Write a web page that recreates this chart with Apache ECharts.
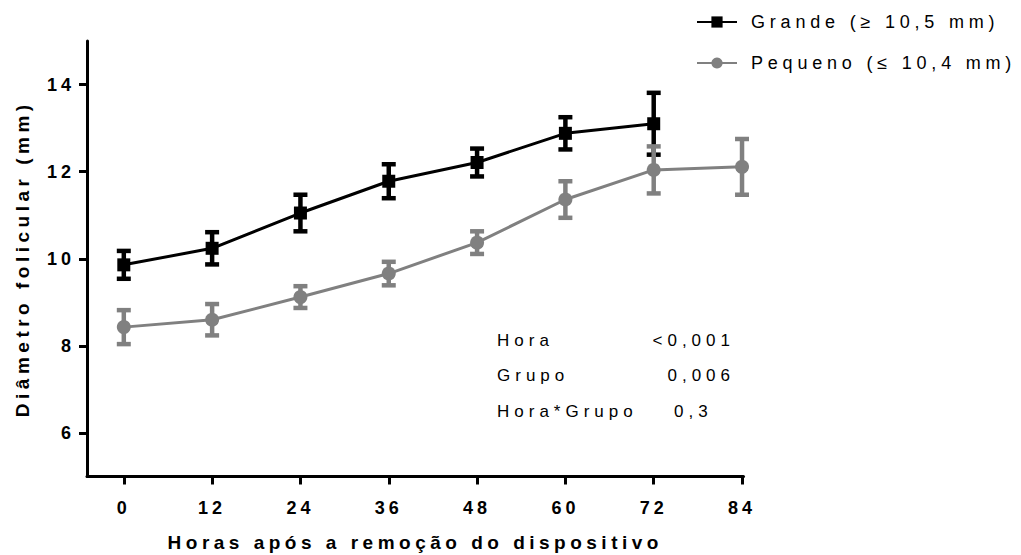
<!DOCTYPE html>
<html><head><meta charset="utf-8">
<script src="https://cdn.jsdelivr.net/npm/echarts@6/dist/echarts.min.js"></script>
<style>html,body{margin:0;padding:0;background:#fff}#c{width:1021px;height:555px}</style>
</head><body><div id="c"></div>
<script>
const hours = [0, 12, 24, 36, 48, 60, 72, 84];
const grandeMean = [9.86, 10.24, 11.05, 11.78, 12.21, 12.88, 13.10];
const grandeErr = [0.32, 0.37, 0.42, 0.39, 0.32, 0.37, 0.71];
const pequenoMean = [8.43, 8.60, 9.12, 9.66, 10.37, 11.36, 12.04, 12.11];
const pequenoErr = [0.39, 0.36, 0.25, 0.27, 0.26, 0.42, 0.54, 0.64];
const xTicks = [0, 12, 24, 36, 48, 60, 72, 84];
const yTicks = [6, 8, 10, 12, 14];
const statLabels = ['Hora', 'Grupo', 'Hora*Grupo'];
const statValues = ['<0,001', '0,006', '0,3'];
const seriesNames = ['Grande (≥ 10,5 mm)', 'Pequeno (≤ 10,4 mm)'];
const xName = 'Horas após a remoção do dispositivo';
const yName = 'Diâmetro folicular (mm)';

const FONT = '"Liberation Sans", Arial, sans-serif';

function pts(mean) { return mean.map((v, i) => [hours[i], v]); }
function bars(mean, err) { return mean.map((v, i) => [hours[i], v - err[i], v + err[i]]); }

function errRender(color) {
  return function (params, api) {
    const x = api.value(0), lo = api.value(1), hi = api.value(2);
    const p1 = api.coord([x, hi]), p2 = api.coord([x, lo]);
    const hw = 7;
    const st = { stroke: color, lineWidth: 4.5 };
    return {
      type: 'group', children: [
        { type: 'line', shape: { x1: p1[0], y1: p1[1], x2: p2[0], y2: p2[1] }, style: st },
        { type: 'line', shape: { x1: p1[0] - hw, y1: p1[1], x2: p1[0] + hw, y2: p1[1] }, style: st },
        { type: 'line', shape: { x1: p2[0] - hw, y1: p2[1], x2: p2[0] + hw, y2: p2[1] }, style: st }
      ]
    };
  };
}

const chart = echarts.init(document.getElementById('c'), null, { renderer: 'svg' });

const axisCommon = {
  axisLine: { show: true, onZero: false, lineStyle: { color: '#000', width: 3 } },
  axisTick: { show: true, inside: false, length: 8, lineStyle: { color: '#000', width: 3 } },
  splitLine: { show: false },
  axisLabel: { color: '#000', fontFamily: FONT, fontWeight: 'bold', fontSize: 18 },
  nameTextStyle: { color: '#000', fontFamily: FONT, fontWeight: 'bold', fontSize: 19 }
};

const statY = [340, 375.5, 411];
const statGraphics = [];
function statText(x, y, text, align) {
  return { type: 'text', x: x, y: y,
    style: { text: text, fontSize: 17, fontFamily: FONT, fill: '#000', textAlign: align, textVerticalAlign: 'middle', align: align, verticalAlign: 'middle' } };
}
statLabels.forEach((t, i) => statGraphics.push(statText(497, statY[i], t, 'left')));
statGraphics.push(statText(735, statY[0], statValues[0], 'right'));
statGraphics.push(statText(735, statY[1], statValues[1], 'right'));
statGraphics.push(statText(674, statY[2], statValues[2], 'left'));

chart.setOption({
  animation: false,
  backgroundColor: '#fff',
  grid: { left: 87, right: 1021 - 743.5, top: 41, bottom: 555 - 476.5, containLabel: false, outerBoundsMode: 'none' },
  legend: {
    data: seriesNames,
    orient: 'vertical',
    left: 691, top: 8,
    itemWidth: 40, itemHeight: 14, itemGap: 23,
    textStyle: { color: '#000', fontFamily: FONT, fontSize: 18, padding: [0, 0, 0, 9] },
  },
  xAxis: Object.assign({}, axisCommon, {
    type: 'value', min: -5, max: 84.2,
    name: xName,
    nameLocation: 'middle', nameGap: 56,
    axisTick: Object.assign({}, axisCommon.axisTick, { customValues: xTicks }),
    axisLabel: Object.assign({}, axisCommon.axisLabel, { customValues: xTicks, margin: 22 })
  }),
  yAxis: Object.assign({}, axisCommon, {
    type: 'value', min: 5, max: 15,
    name: yName,
    nameLocation: 'middle', nameGap: 55,
    axisTick: Object.assign({}, axisCommon.axisTick, { customValues: yTicks }),
    axisLabel: Object.assign({}, axisCommon.axisLabel, { customValues: yTicks, margin: 12 })
  }),
  graphic: statGraphics,
  series: [
    {
      type: 'custom', name: seriesNames[0] + ' err', renderItem: errRender('#000'),
      data: bars(grandeMean, grandeErr), encode: { x: 0, y: [1, 2] }, z: 2
    },
    {
      type: 'line', name: seriesNames[0], data: pts(grandeMean),
      symbol: 'rect', symbolSize: 13,
      lineStyle: { color: '#000', width: 3 }, itemStyle: { color: '#000' }, z: 3
    },
    {
      type: 'custom', name: seriesNames[1] + ' err', renderItem: errRender('#808080'),
      data: bars(pequenoMean, pequenoErr), encode: { x: 0, y: [1, 2] }, z: 4
    },
    {
      type: 'line', name: seriesNames[1], data: pts(pequenoMean),
      symbol: 'circle', symbolSize: 14,
      lineStyle: { color: '#808080', width: 3 }, itemStyle: { color: '#808080' }, z: 5
    }
  ]
});

function applySpacing() {
  document.querySelectorAll('#c svg text').forEach(t => {
    const s = t.textContent;
    let ls = 0;
    if (/^\d+$/.test(s)) ls = 4;
    else if (s === xName || s === yName) ls = 4.5;
    else if (seriesNames.indexOf(s) >= 0) ls = 4.8;
    else if (statLabels.indexOf(s) >= 0 || statValues.indexOf(s) >= 0) ls = 5;
    t.style.letterSpacing = ls + 'px';
  });
}
chart.on('finished', applySpacing);
applySpacing();
setTimeout(applySpacing, 30);
</script>
</body></html>
